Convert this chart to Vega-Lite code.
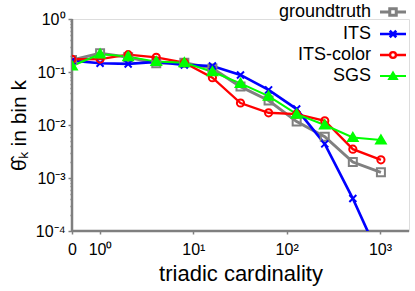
{
  "$schema": "https://vega.github.io/schema/vega-lite/v6.json",
  "width": 337,
  "height": 212,
  "autosize": {"type": "none"},
  "padding": {"left": 72, "top": 19, "right": 6, "bottom": 60},
  "config": {
    "font": "Liberation Sans",
    "axis": {"grid": false, "domain": false, "tickColor": "#808080", "tickWidth": 1.5, "labelColor": "#000000", "labelFont": "Liberation Sans", "titleFont": "Liberation Sans", "titleFontWeight": "normal", "titleColor": "#000000"}
  },
  "data": {"values": [
    {"series": "groundtruth", "k": 0.5, "theta": 0.168},
    {"series": "groundtruth", "k": 1, "theta": 0.225},
    {"series": "groundtruth", "k": 2, "theta": 0.19},
    {"series": "groundtruth", "k": 4, "theta": 0.146},
    {"series": "groundtruth", "k": 8, "theta": 0.15},
    {"series": "groundtruth", "k": 16, "theta": 0.117},
    {"series": "groundtruth", "k": 32, "theta": 0.053},
    {"series": "groundtruth", "k": 64, "theta": 0.029},
    {"series": "groundtruth", "k": 128, "theta": 0.0116},
    {"series": "groundtruth", "k": 256, "theta": 0.006},
    {"series": "groundtruth", "k": 512, "theta": 0.002},
    {"series": "groundtruth", "k": 1024, "theta": 0.00128},
    {"series": "ITS", "k": 0.5, "theta": 0.164},
    {"series": "ITS", "k": 1, "theta": 0.146},
    {"series": "ITS", "k": 2, "theta": 0.142},
    {"series": "ITS", "k": 4, "theta": 0.155},
    {"series": "ITS", "k": 8, "theta": 0.136},
    {"series": "ITS", "k": 16, "theta": 0.13},
    {"series": "ITS", "k": 32, "theta": 0.088},
    {"series": "ITS", "k": 64, "theta": 0.046},
    {"series": "ITS", "k": 128, "theta": 0.02},
    {"series": "ITS", "k": 256, "theta": 0.0044},
    {"series": "ITS", "k": 512, "theta": 0.00041},
    {"series": "ITS", "k": 1024, "theta": 0.000028},
    {"series": "ITS-color", "k": 0.5, "theta": 0.174},
    {"series": "ITS-color", "k": 1, "theta": 0.175},
    {"series": "ITS-color", "k": 2, "theta": 0.212},
    {"series": "ITS-color", "k": 4, "theta": 0.189},
    {"series": "ITS-color", "k": 8, "theta": 0.15},
    {"series": "ITS-color", "k": 16, "theta": 0.078},
    {"series": "ITS-color", "k": 32, "theta": 0.026},
    {"series": "ITS-color", "k": 64, "theta": 0.017},
    {"series": "ITS-color", "k": 128, "theta": 0.016},
    {"series": "ITS-color", "k": 256, "theta": 0.012},
    {"series": "ITS-color", "k": 512, "theta": 0.0035},
    {"series": "ITS-color", "k": 1024, "theta": 0.0022},
    {"series": "SGS", "k": 0.5, "theta": 0.13},
    {"series": "SGS", "k": 1, "theta": 0.218},
    {"series": "SGS", "k": 2, "theta": 0.195},
    {"series": "SGS", "k": 4, "theta": 0.157},
    {"series": "SGS", "k": 8, "theta": 0.15},
    {"series": "SGS", "k": 16, "theta": 0.101},
    {"series": "SGS", "k": 32, "theta": 0.061},
    {"series": "SGS", "k": 64, "theta": 0.035},
    {"series": "SGS", "k": 128, "theta": 0.016},
    {"series": "SGS", "k": 256, "theta": 0.01},
    {"series": "SGS", "k": 512, "theta": 0.0058},
    {"series": "SGS", "k": 1024, "theta": 0.0052}
  ]},
  "resolve": {"scale": {"shape": "independent", "stroke": "independent", "fill": "independent", "strokeWidth": "independent"}},
  "layer": [
    {
      "data": {"values": [{"edge": "bottom"}]},
      "mark": {"type": "rule", "color": "#7f7f7f", "strokeWidth": 2.5, "opacity": 1},
      "encoding": {
        "x": {"datum": 0.5, "type": "quantitative", "scale": {"type": "log", "domain": [0.5, 2048], "nice": false},
          "axis": {"values": [0.5, 1, 10, 100, 1000], "labelExpr": "datum.value < 0.9 ? '0' : datum.value < 5 ? '10⁰' : datum.value < 50 ? '10¹' : datum.value < 500 ? '10²' : '10³'", "labelFontSize": 16, "tickSize": 3, "labelPadding": 7, "labelFlush": false, "labelOverlap": false, "title": "triadic cardinality", "titleFontSize": 22, "titlePadding": 6}},
        "x2": {"datum": 2048},
        "y": {"datum": 0.0001, "type": "quantitative", "scale": {"type": "log", "domain": [0.0001, 1], "nice": false},
          "axis": {"values": [0.0001, 0.0002, 0.0003, 0.0004, 0.0005, 0.0006, 0.0007, 0.0008, 0.0009, 0.001, 0.002, 0.003, 0.004, 0.005, 0.006, 0.007, 0.008, 0.009, 0.01, 0.02, 0.03, 0.04, 0.05, 0.06, 0.07, 0.08, 0.09, 0.1, 0.2, 0.3, 0.4, 0.5, 0.6, 0.7, 0.8, 0.9, 1],
            "labelExpr": "abs(log(datum.value)/LN10 - round(log(datum.value)/LN10)) > 0.01 ? '' : datum.value >= 0.9 ? '10⁰' : datum.value >= 0.09 ? '10⁻¹' : datum.value >= 0.009 ? '10⁻²' : datum.value >= 0.0009 ? '10⁻³' : '10⁻⁴'",
            "tickSize": {"condition": {"test": "abs(log(datum.value)/LN10 - round(log(datum.value)/LN10)) < 0.01", "value": 4}, "value": 2},
            "labelFontSize": 16, "labelPadding": 3, "labelFlush": false, "labelOverlap": false, "title": "θ̂ₖ in bin k", "titleFontSize": 21, "titlePadding": 6}}
      }
    },
    {
      "data": {"values": [{"edge": "left"}]},
      "mark": {"type": "rule", "color": "#7f7f7f", "strokeWidth": 2.5, "opacity": 1},
      "encoding": {
        "x": {"datum": 0.5, "type": "quantitative"},
        "y": {"datum": 0.0001, "type": "quantitative"},
        "y2": {"datum": 1}
      }
    },
    {
      "mark": {"type": "line", "clip": true},
      "encoding": {
        "x": {"field": "k", "type": "quantitative"},
        "y": {"field": "theta", "type": "quantitative"},
        "color": {"field": "series", "type": "nominal", "legend": null,
          "scale": {"domain": ["groundtruth", "ITS", "ITS-color", "SGS"], "range": ["#808080", "#0000ff", "#ff0000", "#00ff00"]}},
        "strokeWidth": {"field": "series", "type": "nominal", "scale": {"domain": ["groundtruth", "ITS", "ITS-color", "SGS"], "range": [3, 2, 2, 2]}, "legend": null}
      }
    },
    {
      "mark": {"type": "point", "clip": true, "size": 100, "strokeWidth": 2, "opacity": 1},
      "encoding": {
        "x": {"field": "k", "type": "quantitative"},
        "y": {"field": "theta", "type": "quantitative"},
        "shape": {"field": "series", "type": "nominal", "legend": null,
          "scale": {"domain": ["groundtruth", "ITS", "ITS-color", "SGS"], "range": ["M-0.8,-0.8H0.8V0.8H-0.8Z", "M-0.7,-0.7L0.7,0.7M-0.7,0.7L0.7,-0.7", "M0.72,0A0.72,0.72 0 1,1 -0.72,0A0.72,0.72 0 1,1 0.72,0Z", "M0,-0.9L0.95,0.7L-0.95,0.7Z"]}},
        "stroke": {"field": "series", "type": "nominal", "legend": null,
          "scale": {"domain": ["groundtruth", "ITS", "ITS-color", "SGS"], "range": ["#808080", "#0000ff", "#ff0000", "#00ff00"]}},
        "fill": {"field": "series", "type": "nominal", "legend": null,
          "scale": {"domain": ["groundtruth", "ITS", "ITS-color", "SGS"], "range": ["transparent", "transparent", "transparent", "#00ff00"]}}
      }
    },
    {
      "transform": [{"filter": "datum.k < 0"}],
      "mark": {"type": "point", "size": 169, "opacity": 1},
      "encoding": {
        "x": {"field": "k", "type": "quantitative"},
        "y": {"field": "theta", "type": "quantitative"},
        "shape": {"field": "series", "type": "nominal",
          "scale": {"domain": ["groundtruth", "ITS", "ITS-color", "SGS"], "range": ["M-2,0H-0.5M0.5,0H2M-0.5,-0.5H0.5V0.5H-0.5Z", "M-2,0H2M-0.5,-0.5L0.5,0.5M-0.5,0.5L0.5,-0.5", "M-2,0H-0.45M0.45,0H2M0.45,0A0.45,0.45 0 1,1 -0.45,0A0.45,0.45 0 1,1 0.45,0Z", "M-2,0H2M0,-0.55L0.6,0.45L-0.6,0.45Z"]},
          "legend": {"title": null, "orient": "none", "legendX": 312, "legendY": -16, "padding": 0, "labelFontSize": 18, "labelColor": "#000000", "labelAlign": "right", "labelOffset": -31, "symbolSize": 169, "rowPadding": 3, "symbolOpacity": 1}},
        "stroke": {"field": "series", "type": "nominal",
          "scale": {"domain": ["groundtruth", "ITS", "ITS-color", "SGS"], "range": ["#808080", "#0000ff", "#ff0000", "#00ff00"]},
          "legend": {"title": null, "orient": "none", "legendX": 312, "legendY": -16, "padding": 0, "labelFontSize": 18, "labelColor": "#000000", "labelAlign": "right", "labelOffset": -31, "symbolSize": 169, "rowPadding": 3, "symbolOpacity": 1}},
        "fill": {"field": "series", "type": "nominal",
          "scale": {"domain": ["groundtruth", "ITS", "ITS-color", "SGS"], "range": ["white", "white", "white", "#00ff00"]},
          "legend": {"title": null, "orient": "none", "legendX": 312, "legendY": -16, "padding": 0, "labelFontSize": 18, "labelColor": "#000000", "labelAlign": "right", "labelOffset": -31, "symbolSize": 169, "rowPadding": 3, "symbolOpacity": 1}},
        "strokeWidth": {"field": "series", "type": "nominal",
          "scale": {"domain": ["groundtruth", "ITS", "ITS-color", "SGS"], "range": [3, 2, 2, 2]},
          "legend": {"title": null, "orient": "none", "legendX": 312, "legendY": -16, "padding": 0, "labelFontSize": 18, "labelColor": "#000000", "labelAlign": "right", "labelOffset": -31, "symbolSize": 169, "rowPadding": 3, "symbolOpacity": 1}}
      }
    }
  ]
}
